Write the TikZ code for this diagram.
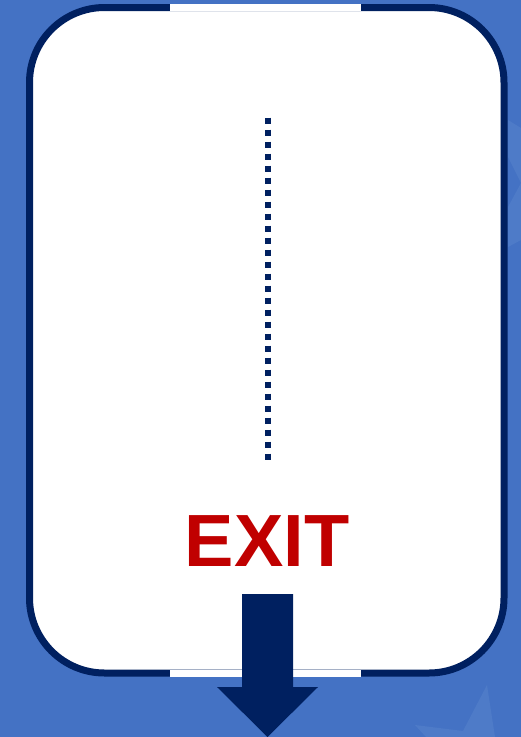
\documentclass[tikz,border=0pt]{standalone}
\usepackage{fontspec}
\setmainfont{Liberation Sans}
\definecolor{bgblue}{HTML}{4472C4}
\definecolor{starblue}{HTML}{4E7BC8}
\definecolor{navy}{HTML}{002060}
\definecolor{exitred}{HTML}{C00000}
\tikzset{
  frame/.style={draw=navy,line width=7pt,fill=white,rounded corners=75pt},
  dots/.style={draw=navy,line width=6pt,dash pattern=on 6pt off 6pt,line cap=butt},
  exitlabel/.style={text=exitred,font=\bfseries\fontsize{74}{74}\selectfont,inner sep=0pt,anchor=base},
  arrowshape/.style={fill=navy,draw=none}
}
\begin{document}
\begin{tikzpicture}[x=1pt,y=-1pt]
\useasboundingbox (0,0) rectangle (521,737);
\fill[bgblue] (0,0) rectangle (521,737);
% faint background stars
\fill[starblue] (508,120) -- (521,128) -- (521,183) -- (508,157) -- cycle;
\fill[starblue] (508,207) -- (521,183) -- (521,240) -- (508,247) -- cycle;
\fill[starblue] (415,725) -- (463,731) -- (487,685) -- (495,737) -- (426,737) -- cycle;
% frame
\draw[frame] (29.5,7.5) rectangle (504,673);
\fill[white] (170,4) rectangle (361,11);
\fill[white] (170,669.5) rectangle (361,677);
% dotted line
\coordinate (dtop) at (267.5,117.5);
\coordinate (dbot) at (267.5,459.5);
\draw[dots] (dtop) -- (dbot);
% EXIT
\node[exitlabel] (exit) at (267,566) {EXIT};
% arrow
\fill[arrowshape] (242,594) -- (293,594) -- (293,687) -- (318,687) -- (267.5,737) -- (217,687) -- (242,687) -- cycle;
\end{tikzpicture}
\end{document}
